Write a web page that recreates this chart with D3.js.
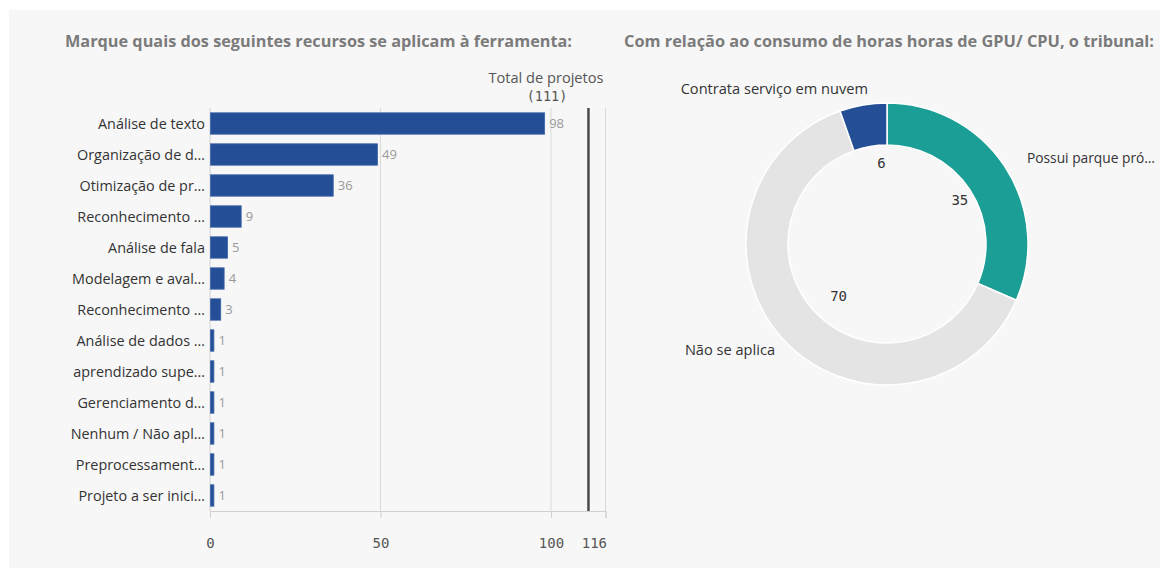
<!DOCTYPE html>
<html>
<head>
<meta charset="utf-8">
<script src="https://cdn.jsdelivr.net/npm/d3@7"></script>
<style>
  html, body { margin: 0; padding: 0; background: #ffffff; }
  svg { display: block; }
</style>
</head>
<body>
<svg id="chart" width="1160" height="568"></svg>
<script>
// Bar chart: resources that apply to the tool
const resourceLabels = [
  "Análise de texto",
  "Organização de d…",
  "Otimização de pr…",
  "Reconhecimento …",
  "Análise de fala",
  "Modelagem e aval…",
  "Reconhecimento …",
  "Análise de dados …",
  "aprendizado supe…",
  "Gerenciamento d…",
  "Nenhum / Não apl…",
  "Preprocessament…",
  "Projeto a ser inici…"
];
const resourceCounts = [98, 49, 36, 9, 5, 4, 3, 1, 1, 1, 1, 1, 1];
const totalProjects = 111;
const axisTicks = [0, 50, 100, 116];

// Donut: GPU/CPU hour consumption
const gpuLabels = ["Possui parque pró…", "Não se aplica", "Contrata serviço em nuvem"];
const gpuValues = [35, 70, 6];

const titleLeft = "Marque quais dos seguintes recursos se aplicam à ferramenta:";
const titleRight = "Com relação ao consumo de horas horas de GPU/ CPU, o tribunal:";

const svg = d3.select("#chart");
const sans = "'Open Sans', 'Noto Sans', sans-serif";
const mono = "'DejaVu Sans Mono', monospace";
const rightEdge = 1155;

// panel background
svg.append("rect")
  .attr("x", 9).attr("y", 10)
  .attr("width", 1151).attr("height", 558)
  .attr("fill", "#f7f7f7");

// titles
svg.append("text")
  .attr("x", 65).attr("y", 47)
  .attr("font-family", sans).attr("font-weight", 700).attr("font-size", 16.3)
  .attr("fill", "#7b7b7b")
  .attr("textLength", 507).attr("lengthAdjust", "spacingAndGlyphs")
  .text(titleLeft);
svg.append("text")
  .attr("x", 624).attr("y", 47)
  .attr("font-family", sans).attr("font-weight", 700).attr("font-size", 16.3)
  .attr("fill", "#7b7b7b")
  .attr("textLength", 530).attr("lengthAdjust", "spacingAndGlyphs")
  .text(titleRight);

// ---- bar chart ----
const x = d3.scaleLinear().domain([0, 116]).range([210, 605.5]);
const y = d3.scaleBand()
  .domain(d3.range(resourceLabels.length))
  .range([108, 511])
  .paddingInner(0.31)
  .paddingOuter(0.155);

const bar = svg.append("g");

// vertical gridlines
bar.selectAll("line.grid")
  .data(axisTicks.filter(t => t > 0))
  .join("line")
  .attr("class", "grid")
  .attr("x1", d => x(d)).attr("x2", d => x(d))
  .attr("y1", 108).attr("y2", 511)
  .attr("stroke", "#d9d9d9").attr("stroke-width", 1);

// left axis line
bar.append("line")
  .attr("x1", x(0)).attr("x2", x(0))
  .attr("y1", 108).attr("y2", 511)
  .attr("stroke", "#d0d0d0");

// bottom axis
const xAxis = d3.axisBottom(x).tickValues(axisTicks).tickSize(7).tickPadding(20).tickFormat(d3.format("d"));
const axisG = bar.append("g").attr("transform", "translate(0,511)").call(xAxis);
axisG.select(".domain").attr("stroke", "#d0d0d0");
axisG.selectAll(".tick line").attr("stroke", "#d0d0d0");
axisG.selectAll(".tick text")
  .attr("font-family", mono).attr("font-size", 14).attr("fill", "#555");
// last tick label sits left of its tick so it does not collide with 100
axisG.selectAll(".tick text")
  .filter(d => d === axisTicks[axisTicks.length - 1])
  .attr("text-anchor", "end").attr("dx", 1);

// bars
bar.selectAll("rect.bar")
  .data(resourceCounts)
  .join("rect")
  .attr("class", "bar")
  .attr("x", x(0) + 0.5)
  .attr("y", (d, i) => y(i))
  .attr("width", d => x(d) - x(0))
  .attr("height", y.bandwidth())
  .attr("fill", "#244f96")
  .attr("stroke", "#3f66aa").attr("stroke-width", 0.8);

// value labels
bar.selectAll("text.val")
  .data(resourceCounts)
  .join("text")
  .attr("class", "val")
  .attr("x", d => x(d) + 5)
  .attr("y", (d, i) => y(i) + y.bandwidth() / 2)
  .attr("dy", "0.35em")
  .attr("font-family", sans).attr("font-size", 13).attr("fill", "#9a9a9a")
  .text(d => d);

// category labels
bar.selectAll("text.cat")
  .data(resourceLabels)
  .join("text")
  .attr("class", "cat")
  .attr("x", 205)
  .attr("y", (d, i) => y(i) + y.bandwidth() / 2)
  .attr("dy", "0.35em")
  .attr("text-anchor", "end")
  .attr("font-family", sans).attr("font-size", 14.4).attr("fill", "#333")
  .text(d => d);

// total reference line
bar.append("line")
  .attr("x1", x(totalProjects)).attr("x2", x(totalProjects))
  .attr("y1", 108).attr("y2", 511)
  .attr("stroke", "#4a4a4a").attr("stroke-width", 2.5);
const totalLabel = bar.append("text")
  .attr("x", 546).attr("y", 83)
  .attr("text-anchor", "middle")
  .attr("font-family", sans).attr("font-size", 14.6).attr("fill", "#555");
totalLabel.append("tspan").attr("x", 546).text("Total de projetos");
totalLabel.append("tspan").attr("x", 547).attr("dy", 18)
  .attr("font-family", mono).attr("font-size", 13.5)
  .text("(" + totalProjects + ")");

// ---- donut ----
const cx = 887, cy = 244;
const outerR = 141, innerR = 99;
const colors = ["#1b9e95", "#e4e4e4", "#244f96"];

const pie = d3.pie().sort(null).value(d => d);
const arcs = pie(gpuValues);
const arc = d3.arc().innerRadius(innerR).outerRadius(outerR);

const donut = svg.append("g").attr("transform", `translate(${cx},${cy})`);
donut.selectAll("path")
  .data(arcs)
  .join("path")
  .attr("d", arc)
  .attr("fill", (d, i) => colors[i])
  .attr("stroke", "#ffffff").attr("stroke-width", 1.5);

// inner value labels: angle (deg) and radius for each slice
const valuePlacement = [
  { angle: 59, radius: 85 },
  { angle: 223, radius: 71 },
  { angle: 356, radius: 81 }
];
donut.selectAll("text.inner")
  .data(arcs)
  .join("text")
  .attr("class", "inner")
  .attr("x", (d, i) => valuePlacement[i].radius * Math.sin(valuePlacement[i].angle * Math.PI / 180))
  .attr("y", (d, i) => -valuePlacement[i].radius * Math.cos(valuePlacement[i].angle * Math.PI / 180))
  .attr("dy", "0.35em")
  .attr("text-anchor", "middle")
  .attr("font-family", mono).attr("font-size", 14).attr("fill", "#333")
  .text(d => d.value);

// outer category labels
const labelPlacement = [
  { x: 140, y: -86, anchor: "start" },
  { x: -112, y: 106, anchor: "end" },
  { x: -19, y: -155, anchor: "end" }
];
donut.selectAll("text.outer")
  .data(gpuLabels)
  .join("text")
  .attr("class", "outer")
  .attr("x", (d, i) => labelPlacement[i].x)
  .attr("y", (d, i) => labelPlacement[i].y)
  .attr("dy", "0.35em")
  .attr("text-anchor", (d, i) => labelPlacement[i].anchor)
  .attr("font-family", sans).attr("font-size", 14.6).attr("fill", "#333")
  .text(d => d)
  .each(function (d, i) {
    // squeeze a label that would run past the right edge of the panel
    const p = labelPlacement[i];
    if (p.anchor === "start") {
      const room = rightEdge - (cx + p.x);
      const w = this.getComputedTextLength();
      if (w > room) {
        d3.select(this).attr("textLength", room).attr("lengthAdjust", "spacingAndGlyphs");
      }
    }
  });
</script>
</body>
</html>
